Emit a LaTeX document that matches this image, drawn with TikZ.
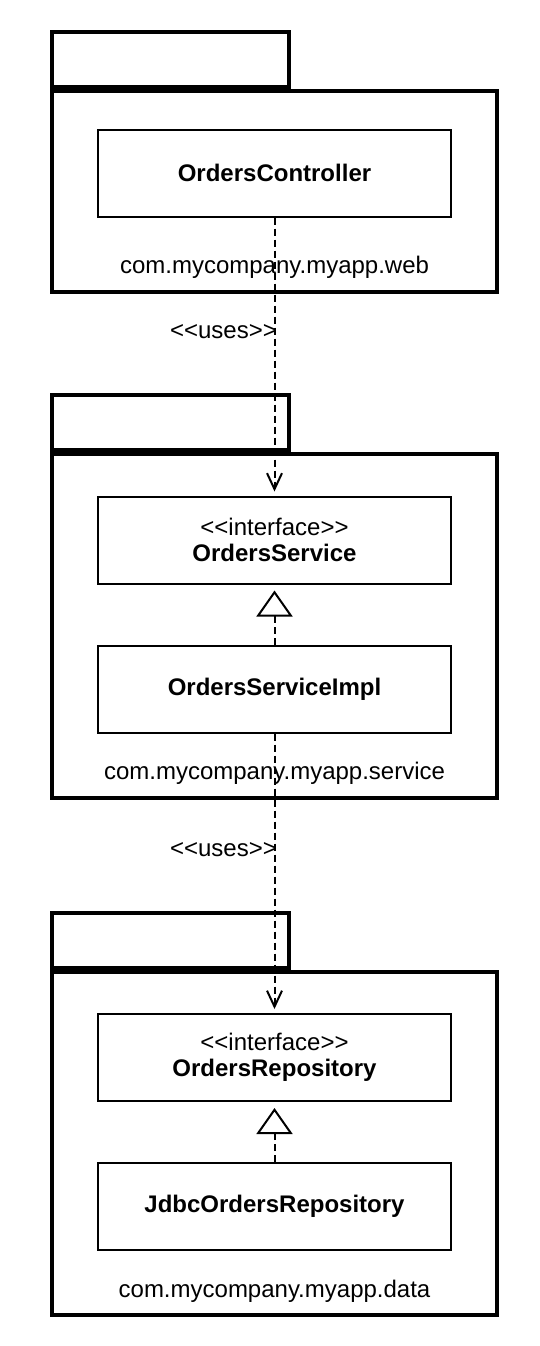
\documentclass[tikz,border=0pt]{standalone}
\usepackage{fontspec}
\setmainfont{Liberation Sans}
\usetikzlibrary{positioning,arrows.meta}

\begin{document}
\begin{tikzpicture}[x=0.5pt, y=-0.5pt, node distance={30pt},
	pkg/.style = {draw, line width=2pt, minimum width=222.5pt, inner sep=0pt},
	tab/.style = {draw, line width=2pt, minimum width=118.5pt, minimum height=27.5pt, inner sep=0pt, anchor=south west},
	cls/.style = {draw, line width=1pt, minimum width=176.5pt, minimum height=43.5pt, align=center, font=\fontsize{12}{14}\selectfont},
	pkgname/.style = {font=\fontsize{12}{14}\selectfont},
	uses/.style = {line width=1pt, dash pattern=on 3.5pt off 2pt, -{Straight Barb[length=8pt, width=7.5pt]}, shorten >=2pt},
	realizes/.style = {line width=1pt, dash pattern=on 3.5pt off 2pt, -{Triangle[open, length=13pt, width=18pt]}, shorten >=3pt},
	stereo/.style = {font=\fontsize{12}{14}\selectfont, anchor=east, xshift=5pt}]
	\useasboundingbox (0,0) rectangle (540,1346);
	\node[pkg, minimum height=100.5pt] (web) at (274.5,191.5) {};
	\node[tab] (webtab) at (web.north west) {};
	\node[cls] (ctrl) at (274.5,173) {\textbf{OrdersController}};
	\node[pkgname] (webname) at (274.5,267) {com.mycompany.myapp.web};
	\node[pkg, minimum height=172pt] (service) at (274.5,626) {};
	\node[tab] (servicetab) at (service.north west) {};
	\node[cls] (svc) at (274.5,540) {<{}<interface>{}>\\[-1pt]\textbf{OrdersService}};
	\node[cls] (svcimpl) [below=of svc] {\textbf{OrdersServiceImpl}};
	\node[pkgname] (servicename) at (274.5,773) {com.mycompany.myapp.service};
	\node[pkg, minimum height=171.5pt] (data) at (274.5,1143.5) {};
	\node[tab] (datatab) at (data.north west) {};
	\node[cls] (repo) at (274.5,1057.5) {<{}<interface>{}>\\[-1pt]\textbf{OrdersRepository}};
	\node[cls] (jdbc) [below=of repo] {\textbf{JdbcOrdersRepository}};
	\node[pkgname] (dataname) at (274.5,1291) {com.mycompany.myapp.data};
	\draw[uses] (ctrl) -- node[stereo, pos=0.41] {<{}<uses>{}>} (svc);
	\draw[realizes] (svcimpl) -- (svc);
	\draw[uses] (svcimpl) -- node[stereo, pos=0.415] {<{}<uses>{}>} (repo);
	\draw[realizes] (jdbc) -- (repo);
\end{tikzpicture}
\end{document}
